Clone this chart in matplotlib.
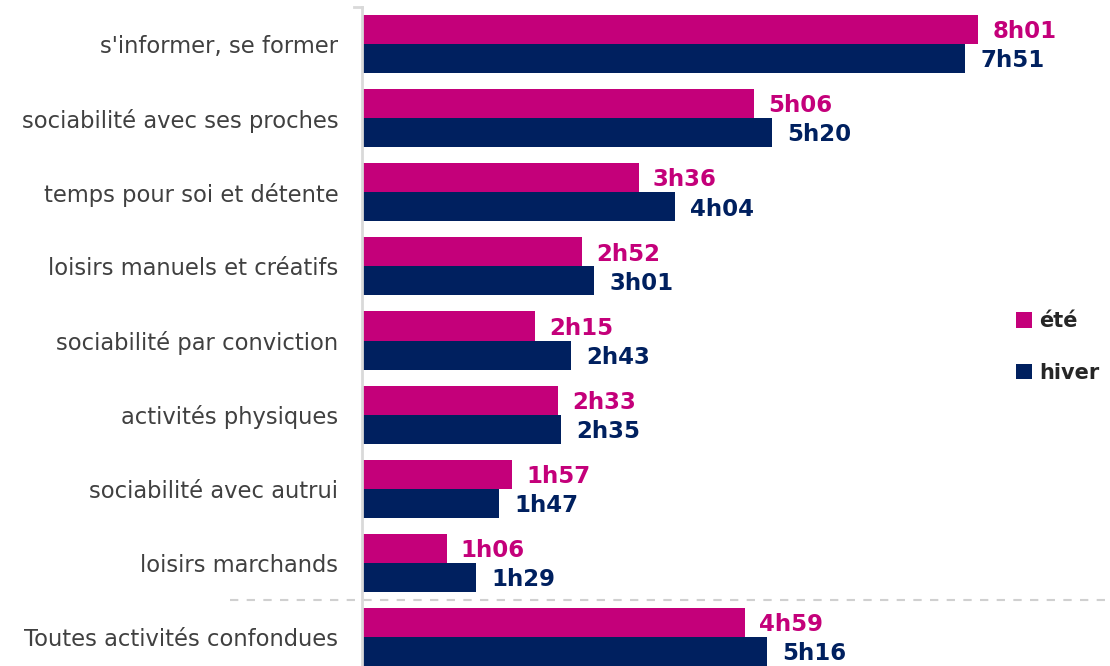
import matplotlib
matplotlib.use("Agg")
import matplotlib.pyplot as plt
import numpy as np

categories = ["s'informer, se former", "sociabilité avec ses proches",
              "temps pour soi et détente", "loisirs manuels et créatifs",
              "sociabilité par conviction", "activités physiques",
              "sociabilité avec autrui", "loisirs marchands",
              "Toutes activités confondues"]
# durées en minutes
ete = [481, 306, 216, 172, 135, 153, 117, 66, 299]
hiver = [471, 320, 244, 181, 163, 155, 107, 89, 316]
series_names = ["été", "hiver"]

c_ete = "#C4007A"
c_hiver = "#00205F"

def fmt(m):
    return f"{m // 60}h{m % 60:02d}"

fig = plt.figure(figsize=(11.1, 6.66), dpi=100)
ax = fig.add_axes([362 / 1110, 0, 1 - 362 / 1110, 1 - 7 / 666])

y = np.arange(len(categories))
h = 29 / 74
ax.barh(y - h / 2, ete, height=h, color=c_ete, label=series_names[0])
ax.barh(y + h / 2, hiver, height=h, color=c_hiver, label=series_names[1])

for yi, v in zip(y, ete):
    ax.text(v + 11, yi - h / 2 + 0.03, fmt(v), color=c_ete, fontsize=16.5,
            fontweight="bold", family="DejaVu Sans", va="center", ha="left")
for yi, v in zip(y, hiver):
    ax.text(v + 12, yi + h / 2 + 0.03, fmt(v), color=c_hiver, fontsize=16.5,
            fontweight="bold", family="DejaVu Sans", va="center", ha="left")

ax.set_xlim(0, (1110 - 362) / 1.281)
ax.set_ylim(len(categories) - 1 + h, -0.5)
ax.set_yticks(y)
ax.set_yticklabels(categories, fontsize=16.3, color="#404040", family="DejaVu Sans")
ax.tick_params(axis="y", length=0, pad=17)
ax.set_xticks([])
for s in ["top", "right", "bottom"]:
    ax.spines[s].set_visible(False)
ax.spines["left"].set_color("#D9D9D9")
ax.spines["left"].set_linewidth(2)

# séparation avant le total
ax.axhline(7.5, xmin=-(362 - 230) / 748, xmax=1, color="#D0D0D0",
           lw=1.5, ls=(0, (4, 4)), clip_on=False)
# petit trait en haut de l'axe
ax.plot([-0.011, 0], [-0.5, -0.5], color="#D9D9D9", lw=2,
        transform=ax.get_yaxis_transform(), clip_on=False)

leg = ax.legend(loc="center left", bbox_to_anchor=(1016 / 1110, 0.479),
                bbox_transform=fig.transFigure, frameon=False,
                handlelength=0.75, handleheight=0.75, handletextpad=0.35,
                labelspacing=1.5, borderpad=0, borderaxespad=0,
                prop={"family": "DejaVu Sans", "weight": "bold", "size": 15})
for t in leg.get_texts():
    t.set_color("#262626")

fig.savefig("out.png", dpi=100)
